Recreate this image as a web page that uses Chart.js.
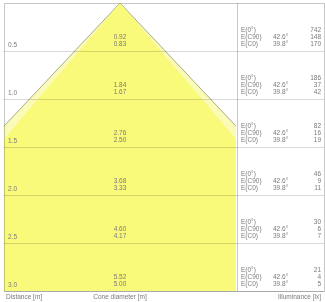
<!DOCTYPE html>
<html>
<head>
<meta charset="utf-8">
<script src="https://cdn.jsdelivr.net/npm/chart.js@4"></script>
<style>
  body { margin: 0; background: #fff; }
  canvas { display: block; }
</style>
</head>
<body>
<canvas id="cone" width="325" height="302"></canvas>
<script>
'use strict';

// distance rows [m]
const distances = [0.5, 1.0, 1.5, 2.0, 2.5, 3.0];
// cone diameters [m] for the two planes
const diamC90 = [0.92, 1.84, 2.76, 3.68, 4.60, 5.52];
const diamC0 = [0.83, 1.67, 2.50, 3.33, 4.17, 5.00];
// illuminance [lx]
const lux0 = [742, 186, 82, 46, 30, 21];
const luxC90 = [148, 37, 16, 9, 6, 4];
const luxC0 = [170, 42, 19, 11, 7, 5];
const angleC90 = '42.6°';
const angleC0 = '39.8°';
const rowLabels = ['E(0°)', 'E(C90)', 'E(C0)'];
const axisTitles = ['Distance [m]', 'Cone diameter [m]', 'Illuminance [lx]'];

const FONT = '6.5px "Liberation Sans", Arial, sans-serif';
const TEXT = '#7a7a7a';

function conePoints(diams) {
  let left = distances.map((d, i) => ({x: -diams[i] / 2, y: d})).reverse();
  let right = distances.map((d, i) => ({x: diams[i] / 2, y: d}));
  return left.concat([{x: 0, y: 0}], right);
}

const tablePlugin = {
  id: 'coneTable',
  afterDatasetsDraw(chart) {
    let ctx = chart.ctx;
    let area = chart.chartArea;
    let y = chart.scales.y;
    let tableRight = 324;
    ctx.save();

    // row lines
    ctx.lineWidth = 1;
    ctx.strokeStyle = 'rgba(0,0,0,0.15)';
    distances.forEach(d => {
      let py = Math.round(y.getPixelForValue(d)) + 0.5;
      ctx.beginPath();
      ctx.moveTo(area.left, py);
      ctx.lineTo(tableRight, py);
      ctx.stroke();
    });

    // frame
    ctx.strokeStyle = 'rgba(0,0,0,0.22)';
    ctx.beginPath();
    ctx.moveTo(area.left + 0.5, area.top + 0.5);
    ctx.lineTo(tableRight + 0.5, area.top + 0.5);
    ctx.lineTo(tableRight + 0.5, area.bottom + 0.5);
    ctx.lineTo(area.left + 0.5, area.bottom + 0.5);
    ctx.closePath();
    ctx.stroke();
    ctx.beginPath();
    ctx.moveTo(area.right + 1.5, area.top);
    ctx.lineTo(area.right + 1.5, area.bottom);
    ctx.stroke();

    ctx.font = FONT;
    ctx.fillStyle = TEXT;
    ctx.textBaseline = 'alphabetic';
    let cx = (area.left + area.right) / 2;

    distances.forEach((d, i) => {
      let py = Math.round(y.getPixelForValue(d));
      // distance label
      ctx.textAlign = 'left';
      ctx.fillText(d.toFixed(1), area.left + 4, py - 4);
      // diameters
      ctx.textAlign = 'center';
      ctx.fillText(diamC90[i].toFixed(2), cx, py - 12);
      ctx.fillText(diamC0[i].toFixed(2), cx, py - 5);
      // table
      let tx = area.right + 5;
      ctx.textAlign = 'left';
      ctx.fillText(rowLabels[0], tx, py - 19);
      ctx.fillText(rowLabels[1], tx, py - 12);
      ctx.fillText(rowLabels[2], tx, py - 5);
      ctx.fillText(angleC90, tx + 32, py - 12);
      ctx.fillText(angleC0, tx + 32, py - 5);
      ctx.textAlign = 'right';
      ctx.fillText(String(lux0[i]), tableRight - 3, py - 19);
      ctx.fillText(String(luxC90[i]), tableRight - 3, py - 12);
      ctx.fillText(String(luxC0[i]), tableRight - 3, py - 5);
    });

    // bottom titles
    let by = area.bottom + 8;
    ctx.textAlign = 'left';
    ctx.fillText(axisTitles[0], area.left + 2, by);
    ctx.textAlign = 'center';
    ctx.fillText(axisTitles[1], cx, by);
    ctx.textAlign = 'right';
    ctx.fillText(axisTitles[2], tableRight - 3, by);
    ctx.restore();
  }
};

let ctx = document.getElementById('cone').getContext('2d');
new Chart(ctx, {
  type: 'scatter',
  data: {
    datasets: [
      {
        label: 'C0',
        data: conePoints(diamC0),
        showLine: true,
        pointRadius: 0,
        borderWidth: 0,
        borderColor: 'rgba(0,0,0,0)',
        backgroundColor: 'rgb(250,250,122)',
        fill: {value: 3},
        order: 1
      },
      {
        label: 'C90',
        data: conePoints(diamC90),
        showLine: true,
        pointRadius: 0,
        borderWidth: 1,
        borderColor: 'rgba(150,150,110,0.8)',
        backgroundColor: 'rgb(250,250,185)',
        fill: {value: 3},
        order: 2
      }
    ]
  },
  options: {
    responsive: false,
    animation: false,
    devicePixelRatio: 1,
    layout: {padding: {left: 4, top: 3, right: 89, bottom: 11}},
    plugins: {legend: {display: false}, tooltip: {enabled: false}},
    scales: {
      x: {type: 'linear', min: -1.18, max: 1.18, display: false},
      y: {type: 'linear', min: 0, max: 3, reverse: true, display: false}
    }
  },
  plugins: [tablePlugin]
});
</script>
</body>
</html>
